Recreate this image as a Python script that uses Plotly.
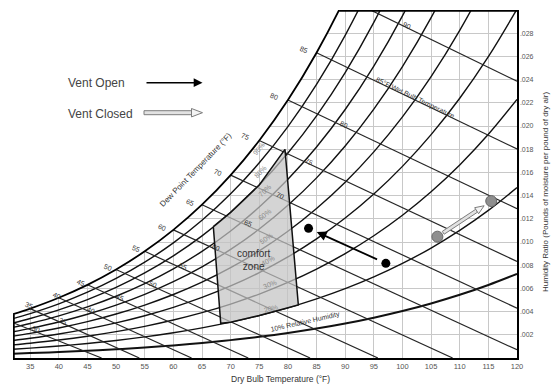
import math
import bisect
import plotly.graph_objects as go

# ------------------------------------------------------------------ data
P_ATM = 14.696  # psia, sea level

# saturation vapour pressure of water (psia) at the chart's dry-bulb steps (°F)
TEMPS_F = [32, 35, 40, 45, 50, 55, 60, 65, 70, 75, 80, 85, 90, 95, 100, 105, 110, 115, 120]
PWS_PSIA = [0.08865, 0.09998, 0.12173, 0.14756, 0.17812, 0.21413, 0.25638, 0.30578,
            0.36334, 0.43016, 0.50745, 0.59659, 0.69904, 0.81643, 0.95052, 1.10323,
            1.27664, 1.47299, 1.69470]

RH_LEVELS = [0.1, 0.2, 0.3, 0.4, 0.5, 0.6, 0.7, 0.8, 0.9]
WB_LEVELS = [30, 35, 40, 45, 50, 55, 60, 65, 70, 75, 80, 85, 90]
W_SAT_ICE_30F = 0.00344

DEW_LABELS = [35, 40, 45, 50, 55, 60, 65, 70, 75, 80, 85]

WB_LABEL_TEXT = ["30", "35", "40", "45", "50", "55", "60", "65", "70", "75", "80",
                 "85°F Wet Bulb Temperature", "90"]
WB_LABEL_T = [36.1, 40.8, 45.7, 50.7, 56.5, 61.7, 67.4, 73.1, 78.6, 83.6, 89.8, 102.2, 100.8]

RH_LABEL_LEVELS = [0.2, 0.3, 0.4, 0.5, 0.6, 0.7, 0.8, 0.9]
RH_LABEL_T = [77.0, 76.8, 76.6, 76.2, 76.0, 76.0, 75.2, 75.0]

COMFORT_T = [66.98, 79.49, 81.82, 68.27]        # TL, TR, BR, BL
COMFORT_W = [0.01132, 0.01799, 0.00457, 0.00299]
COMFORT_RH_TOP = 0.8
COMFORT_RH_BOTTOM = 0.2

VENT_OPEN_T = [97.1, 83.6]
VENT_OPEN_W = [0.00816, 0.01118]
VENT_CLOSED_T = [106.1, 115.5]
VENT_CLOSED_W = [0.01046, 0.01353]

X_TICKS = list(range(35, 121, 5))
Y_TICKS = [0.002 * i for i in range(1, 15)]
Y_TICK_TEXT = [".%03d" % (2 * i) for i in range(1, 15)]

# ------------------------------------------------------------------ layout geometry / style
FIG_W, FIG_H = 553, 386
M_L, M_R, M_T, M_B = 13, 36, 10, 28
T_MIN, T_MAX, W_MAX = 32, 120, 0.030
AREA_W = FIG_W - M_L - M_R
AREA_H = FIG_H - M_T - M_B
PX_T = AREA_W / (T_MAX - T_MIN)
PX_W = AREA_H / W_MAX
FONT = "Liberation Sans, Arial, sans-serif"
TXT = "#333333"

DEW_DX = [-1, -2.2, -6.8, -7.8, -9, -11, -11.9, -12.5, -14, -13.7, -13]
DEW_DY = [3, 2.7, 2.7, 2, 2.5, 2.4, 2.1, 3, 3.5, 3, 3.7]


def to_data(x, y):
    return T_MIN + (x - M_L) / PX_T, (M_T + AREA_H - y) / PX_W


def to_px(t, w):
    return M_L + (t - T_MIN) * PX_T, M_T + AREA_H - w * PX_W


# ------------------------------------------------------------------ psychrometrics
def pws_at(t):
    i = max(0, min(len(TEMPS_F) - 2, bisect.bisect_right(TEMPS_F, t) - 1))
    t0, t1 = TEMPS_F[i], TEMPS_F[i + 1]
    p0, p1 = PWS_PSIA[i], PWS_PSIA[i + 1]
    return p0 * (p1 / p0) ** ((t - t0) / (t1 - t0))


def w_from_pw(pw):
    return 0.622 * pw / (P_ATM - pw)


def w_rh(t, rh):
    return w_from_pw(rh * pws_at(t))


def t_sat_of_w(w):
    pw = w * P_ATM / (0.622 + w)
    for i in range(len(TEMPS_F) - 1):
        if PWS_PSIA[i] <= pw <= PWS_PSIA[i + 1]:
            f = math.log(pw / PWS_PSIA[i]) / math.log(PWS_PSIA[i + 1] / PWS_PSIA[i])
            return TEMPS_F[i] + f * (TEMPS_F[i + 1] - TEMPS_F[i])
    return TEMPS_F[-1]


def wb_coef(twb):
    if twb >= 32:
        return (1093 - 0.556 * twb) * w_from_pw(pws_at(twb))
    return (1220 - 0.04 * twb) * W_SAT_ICE_30F


def wb_w(twb, t):
    if twb >= 32:
        return (wb_coef(twb) - 0.240 * (t - twb)) / (1093 + 0.444 * t - twb)
    return (wb_coef(twb) - 0.240 * (t - twb)) / (1220 + 0.444 * t - 0.48 * twb)


def slope_angle(t0, w0, t1, w1):
    dx = (t1 - t0) * PX_T
    dy = (w0 - w1) * PX_W  # screen y grows downward
    return math.degrees(math.atan2(dy, dx))


fig = go.Figure()

# white mask above the saturation curve (hides grid there)
mask_T = [t for t in TEMPS_F if t <= 100]
fig.add_trace(go.Scatter(x=mask_T, y=[0.06] * len(mask_T), mode="lines",
                         line=dict(width=0), hoverinfo="skip", showlegend=False))
fig.add_trace(go.Scatter(x=mask_T, y=[w_rh(t, 1.0) for t in mask_T], mode="lines",
                         line=dict(width=0, shape="spline", smoothing=1),
                         fill="tonexty", fillcolor="white", hoverinfo="skip", showlegend=False))

# relative humidity curves
for rh in RH_LEVELS:
    fig.add_trace(go.Scatter(x=TEMPS_F, y=[w_rh(t, rh) for t in TEMPS_F], mode="lines",
                             line=dict(color="#111111", width=2.0 if rh == 0.1 else 1.4,
                                       shape="spline", smoothing=1),
                             hoverinfo="skip", showlegend=False))

# wet bulb lines
wb_geom = {}
for twb in WB_LEVELS:
    t0 = max(twb, T_MIN)
    w0 = wb_w(twb, t0)
    t1 = min(T_MAX, twb + wb_coef(twb) / 0.240)
    w1 = max(0.0, wb_w(twb, t1))
    wb_geom[twb] = (t0, w0, t1, w1)
    fig.add_trace(go.Scatter(x=[t0, t1], y=[w0, w1], mode="lines",
                             line=dict(color="#262626", width=1.2),
                             hoverinfo="skip", showlegend=False))

# comfort zone
cz_x = [COMFORT_T[0]]
cz_y = [COMFORT_W[0]]
for t in TEMPS_F:
    if COMFORT_T[0] < t < COMFORT_T[1]:
        cz_x.append(t)
        cz_y.append(w_rh(t, COMFORT_RH_TOP))
cz_x += [COMFORT_T[1], COMFORT_T[2]]
cz_y += [COMFORT_W[1], COMFORT_W[2]]
for t in reversed(TEMPS_F):
    if COMFORT_T[3] < t < COMFORT_T[2]:
        cz_x.append(t)
        cz_y.append(w_rh(t, COMFORT_RH_BOTTOM))
cz_x += [COMFORT_T[3], COMFORT_T[0]]
cz_y += [COMFORT_W[3], COMFORT_W[0]]
fig.add_trace(go.Scatter(x=cz_x, y=cz_y, mode="lines", fill="toself",
                         fillcolor="rgba(196,196,196,0.72)",
                         line=dict(color="#111111", width=1.5),
                         hoverinfo="skip", showlegend=False))

# saturation curve and chart frame
fig.add_trace(go.Scatter(x=TEMPS_F, y=[w_rh(t, 1.0) for t in TEMPS_F], mode="lines",
                         line=dict(color="#000000", width=1.8, shape="spline", smoothing=1),
                         hoverinfo="skip", showlegend=False))
fig.add_trace(go.Scatter(x=[T_MIN, T_MIN], y=[0, w_rh(T_MIN, 1.0)], mode="lines",
                         line=dict(color="#000000", width=3.5),
                         hoverinfo="skip", showlegend=False))
fig.add_trace(go.Scatter(x=[t_sat_of_w(W_MAX), T_MAX], y=[W_MAX, W_MAX], mode="lines",
                         line=dict(color="#000000", width=3.5),
                         hoverinfo="skip", showlegend=False))

# state points
fig.add_trace(go.Scatter(x=VENT_OPEN_T, y=VENT_OPEN_W, mode="markers",
                         marker=dict(color="#000000", size=9),
                         hoverinfo="skip", showlegend=False))
fig.add_trace(go.Scatter(x=VENT_CLOSED_T, y=VENT_CLOSED_W, mode="markers",
                         marker=dict(color="#8e8e8e", size=11, line=dict(color="#666666", width=1)),
                         hoverinfo="skip", showlegend=False))

ann = []


def label(x, y, text, size=7, color=TXT, angle=0, xshift=0, yshift=0, xanchor="center", **kw):
    d = dict(x=x, y=y, xref="x", yref="y", text=text, showarrow=False,
             font=dict(family=FONT, size=size, color=color), textangle=angle,
             xshift=xshift, yshift=yshift, xanchor=xanchor, yanchor="middle")
    d.update(kw)
    ann.append(d)


# dew point labels
for t, dx, dy in zip(DEW_LABELS, DEW_DX, DEW_DY):
    label(t, w_rh(t, 1.0), str(t), angle=22, xshift=dx, yshift=dy)

# wet bulb labels
for twb, t, text in zip(WB_LEVELS, WB_LABEL_T, WB_LABEL_TEXT):
    t0, w0, t1, w1 = wb_geom[twb]
    ang = slope_angle(t0, w0, t1, w1)
    label(t, wb_w(twb, t), text, angle=ang, yshift=2.5)

# relative humidity labels in comfort zone
for rh, t in zip(RH_LABEL_LEVELS, RH_LABEL_T):
    ang = slope_angle(t - 0.5, w_rh(t - 0.5, rh), t + 0.5, w_rh(t + 0.5, rh))
    label(t, w_rh(t, rh), "%d%%" % round(rh * 100), color="#8a8a8a", angle=ang,
          yshift=4 + 10 * (rh - 0.2) / 0.7)

ang10 = slope_angle(82.5, w_rh(82.5, 0.1), 83.5, w_rh(83.5, 0.1))
label(83, w_rh(83, 0.1), "10% Relative Humidity", angle=ang10 - 4, yshift=8)

# comfort zone caption
label(sum(COMFORT_T) / 4, sum(COMFORT_W) / 4, "comfort<br>zone", size=10, yshift=-9)

# dew point axis caption
dx_, dy_ = to_data(195, 170)
label(dx_, dy_, "Dew Point Temperature (°F)", size=8, angle=-46)

# legend
lx, ly = to_data(65.7, 83.3)
label(lx, ly, "Vent Open", size=12, color="#444444", xanchor="left")
lx, ly = to_data(65.7, 114.3)
label(lx, ly, "Vent Closed", size=12, color="#444444", xanchor="left")

tx, ty = to_data(202.5, 82.7)
sx, sy = to_data(145, 82.7)
ann.append(dict(x=tx, y=ty, ax=sx, ay=sy, xref="x", yref="y", axref="x", ayref="y",
                text="", showarrow=True, arrowhead=2, arrowsize=1.1, arrowwidth=1.6,
                arrowcolor="#000000"))

# vent open arrow
ann.append(dict(x=VENT_OPEN_T[1], y=VENT_OPEN_W[1], ax=VENT_OPEN_T[0], ay=VENT_OPEN_W[0],
                xref="x", yref="y", axref="x", ayref="y", text="", showarrow=True,
                arrowhead=2, arrowsize=1.1, arrowwidth=1.8, arrowcolor="#000000",
                standoff=9, startstandoff=8))

# axis titles
ann.append(dict(x=(280 - M_L) / AREA_W, y=(M_T + AREA_H - 379) / AREA_H, xref="paper", yref="paper",
                text="Dry Bulb Temperature (°F)", showarrow=False,
                font=dict(family=FONT, size=8.5, color=TXT), xanchor="center", yanchor="middle"))
ann.append(dict(x=(545 - M_L) / AREA_W, y=(M_T + AREA_H - 192) / AREA_H, xref="paper", yref="paper",
                text="Humidity Ratio (Pounds of moisture per pound of dry air)", showarrow=False,
                textangle=-90, font=dict(family=FONT, size=8, color=TXT),
                xanchor="center", yanchor="middle"))


# hollow gray arrows (Vent Closed)
def hollow_arrow(p0, p1, hw, head_len, hh):
    (x0, y0), (x1, y1) = p0, p1
    L = math.hypot(x1 - x0, y1 - y0)
    ux, uy = (x1 - x0) / L, (y1 - y0) / L
    nx, ny = -uy, ux
    bx, by = x1 - ux * head_len, y1 - uy * head_len
    shaft = [(x0 + nx * hw, y0 + ny * hw), (bx + nx * hw, by + ny * hw),
             (bx - nx * hw, by - ny * hw), (x0 - nx * hw, y0 - ny * hw)]
    head = [(bx + nx * hh, by + ny * hh), (x1, y1), (bx - nx * hh, by - ny * hh)]

    def path(pts):
        dp = [to_data(px, py) for px, py in pts]
        return "M " + " L ".join("%.5f,%.6f" % p for p in dp) + " Z"

    return [dict(type="path", xref="x", yref="y", path=path(shaft), layer="above",
                 fillcolor="#e2e2e2", line=dict(color="#7d7d7d", width=1)),
            dict(type="path", xref="x", yref="y", path=path(head), layer="above",
                 fillcolor="#f4f4f4", line=dict(color="#7d7d7d", width=1))]


shapes = []
shapes += hollow_arrow((144, 112.7), (202.5, 112.7), 2.0, 11, 4.2)
g0 = to_px(VENT_CLOSED_T[0], VENT_CLOSED_W[0])
g1 = to_px(VENT_CLOSED_T[1], VENT_CLOSED_W[1])
Lg = math.hypot(g1[0] - g0[0], g1[1] - g0[1])
ugx, ugy = (g1[0] - g0[0]) / Lg, (g1[1] - g0[1]) / Lg
shapes += hollow_arrow((g0[0] + ugx * 7, g0[1] + ugy * 7), (g1[0] - ugx * 8.5, g1[1] - ugy * 8.5),
                       1.7, 9, 3.6)

fig.update_layout(
    width=FIG_W, height=FIG_H, autosize=False,
    margin=dict(l=M_L, r=M_R, t=M_T, b=M_B, pad=0),
    paper_bgcolor="white", plot_bgcolor="white",
    showlegend=False, hovermode=False,
    annotations=ann, shapes=shapes,
    font=dict(family=FONT, color=TXT),
    xaxis=dict(range=[T_MIN, T_MAX], tickvals=X_TICKS, ticktext=[str(v) for v in X_TICKS],
               showgrid=True, gridcolor="#c8c8c8", gridwidth=1, zeroline=False,
               showline=True, linecolor="#000000", linewidth=2, ticks="",
               tickfont=dict(family=FONT, size=7.5, color="#555555"), fixedrange=True),
    yaxis=dict(range=[0, W_MAX], side="right", tickvals=Y_TICKS, ticktext=Y_TICK_TEXT,
               showgrid=True, gridcolor="#c8c8c8", gridwidth=1, zeroline=False,
               showline=True, linecolor="#000000", linewidth=1.5, ticks="",
               tickfont=dict(family=FONT, size=7, color="#555555"), fixedrange=True),
)

fig.write_html("out.html", config={"displayModeBar": False, "staticPlot": True},
               post_script="document.body.style.margin='0px';document.body.style.overflow='hidden';")
